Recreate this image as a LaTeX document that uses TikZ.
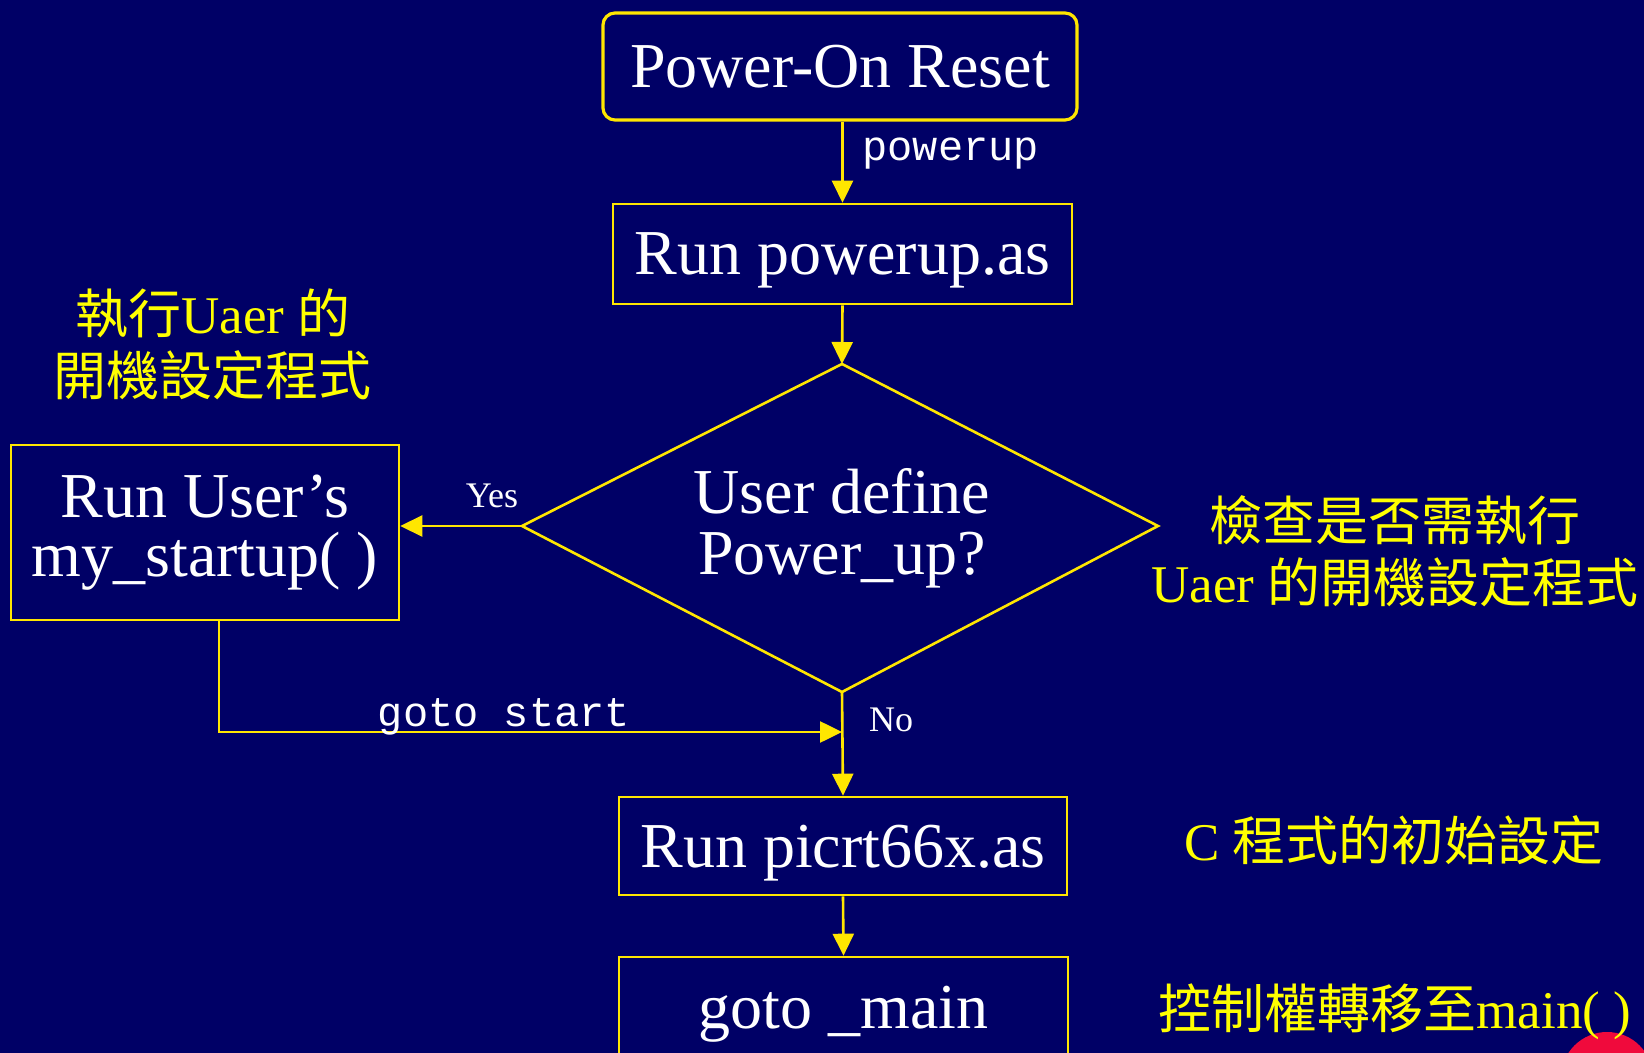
\documentclass[tikz,border=0pt]{standalone}
\usepackage{fontspec}
\setmainfont{Liberation Serif}
\setmonofont{Liberation Mono}
\newfontfamily\cjk{Noto Sans CJK TC}
\usetikzlibrary{arrows.meta}
\definecolor{bgnavy}{RGB}{0,0,102}
\definecolor{lineyel}{RGB}{255,230,0}
\definecolor{txtyel}{RGB}{255,255,0}
\definecolor{blobred}{RGB}{240,10,60}
\begin{document}
\begin{tikzpicture}[x=0.5pt,y=-0.5pt,
 box/.style={draw=lineyel, line width=1.3pt, text=white, font=\fontsize{32}{29.5}\selectfont, align=center, inner sep=0pt},
 onebox/.style={box, text depth=0pt},
 conn/.style={lineyel, line width=1.3pt, -{Triangle[width=10.5pt,length=11pt]}},
 plain/.style={lineyel, line width=1.3pt},
 note/.style={text=txtyel, font=\fontsize{26.5}{31}\selectfont, align=center, inner sep=0pt},
 monolbl/.style={text=white, font=\fontsize{21}{24}\selectfont\ttfamily, inner sep=0pt},
 small/.style={text=white, font=\fontsize{18}{20}\selectfont, inner sep=0pt}]
\fill[bgnavy] (0,0) rectangle (1644,1053);
\useasboundingbox (0,0) rectangle (1644,1053);
\clip (0,0) rectangle (1644,1053);

% boxes
\node[onebox, rounded corners=6pt, line width=1.6pt, minimum width=237pt, minimum height=53.5pt] (por) at (840,66.5) {Power-On Reset};
\node[onebox, minimum width=229.5pt, minimum height=50pt] (pr) at (842.5,254) {Run powerup.as};
\coordinate (dT) at (842,364);
\coordinate (dL) at (522,526);
\coordinate (dR) at (1158,526);
\coordinate (dB) at (842,692);
\draw[plain] (dT) -- (dR) -- (dB) -- (dL) -- cycle;
\node[text=white, font=\fontsize{32}{30.5}\selectfont, align=center, inner sep=0pt] (dq) at (842,528) {User define\\Power\_up?};
\node[box, minimum width=194pt, minimum height=87.5pt] (us) at (205,532.5) {Run User’s\\my\_startup( )};
\node[onebox, minimum width=224pt, minimum height=49pt] (pc) at (843,846) {Run picrt66x.as};
\node[onebox, minimum width=224.5pt, minimum height=50pt] (gm) at (843.5,1007) {goto \_main};

% connectors
\draw[conn] (pr.north |- por.south) -- (pr.north);
\node[monolbl, anchor=west] (lpow) at (862,154) {powerup};
\draw[conn] (pr.south) -- (dT);
\draw[conn] (dL) -- (dL -| us.east);
\node[small] (lyes) at (492,496) {Yes};
\coordinate (j) at (842,732);
\draw[conn] ([xshift=7pt]us.south) |- (j);
\node[monolbl] (lgoto) at (504,717) {goto start};
\draw[conn] (dB) -- (pc.north);
\node[small] (lno) at (891,720) {No};
\draw[conn] (pc.south) -- (gm.north);

% red blob
\fill[blobred] (1607,1078) circle[radius=23pt];

% notes
\node[note] (nleft) at (213,344) {{\cjk 執行}Uaer {\cjk 的}\\{\cjk 開機設定程式}};
\node[note] (nright) at (1395,551) {{\cjk 檢查是否需執行}\\Uaer {\cjk 的開機設定程式}};
\node[note] (nc) at (1394,840) {C {\cjk 程式的初始設定}};
\node[note] (nmain) at (1395,1012) {{\cjk 控制權轉移至}main( )};
\end{tikzpicture}
\end{document}
